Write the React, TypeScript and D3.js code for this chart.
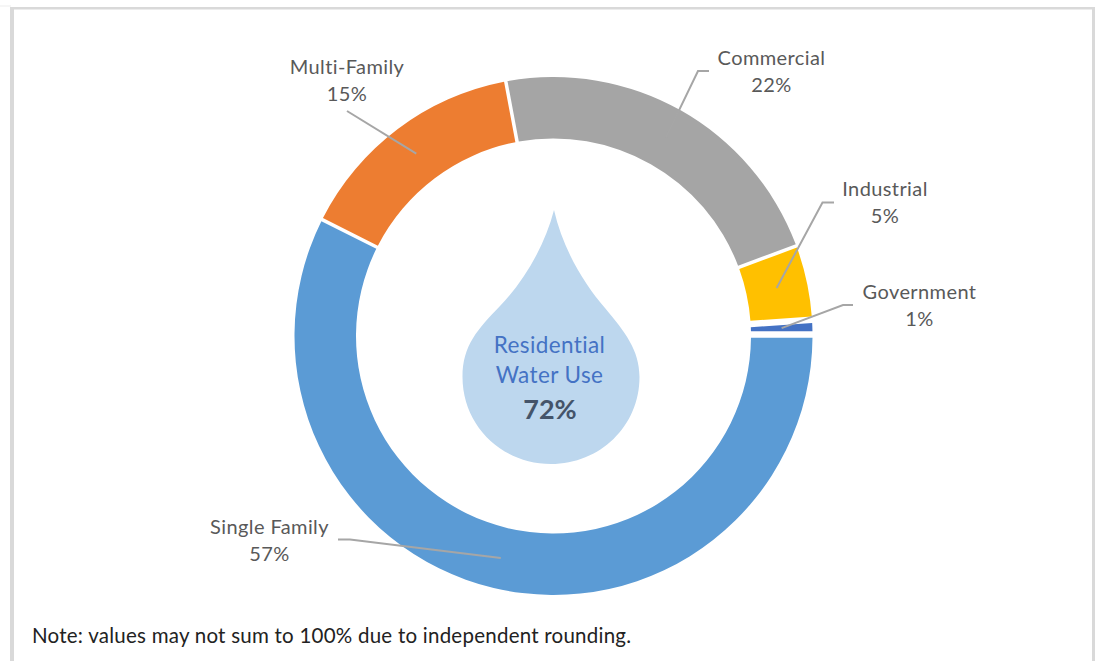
import React from "react";
import * as d3 from "d3";

const categories = ["Single Family", "Multi-Family", "Commercial", "Industrial", "Government"];
const labelValues = ["57%", "15%", "22%", "5%", "1%"];
// Slice sizes as measured from the ring (the printed labels are rounded)
const sliceShares = [57.42, 14.63, 22.3, 4.56, 1.09];
const sliceColors = ["#5b9bd5", "#ed7d31", "#a5a5a5", "#ffc000", "#4472c4"];
const noteText = "Note: values may not sum to 100% due to independent rounding.";
const dropLines = ["Residential", "Water Use"];
const dropValue = "72%";

// Layout (label centre and the leader's outer points)
const labelLayout = [
  { x: 269.5, y: 534, leader: [[338, 539.5], [350, 539.5]] },
  { x: 347, y: 74, leader: [[347, 111]] },
  { x: 771.5, y: 65, leader: [[709, 71], [698, 71]] },
  { x: 885, y: 196, leader: [[834, 202.5], [822.5, 202.5]] },
  { x: 919.5, y: 299, leader: [[853, 305], [843, 305]] },
];
const slicePads = [3.5, 3.5, 3.5, 3.5, 9.5];

const cx = 553.5;
const cy = 336;
const outer = 259;
const inner = 197.5;
const FONT = "Lato, 'Open Sans', sans-serif";

const DROP =
  "M554,210 C545,245 525,280 500,306 C478,329 462.5,345 462.5,377 " +
  "C462.5,426 502,464 551,464 C600,464 639.5,426 639.5,377 C639.5,350 625,332 605,308 " +
  "C585,285 563,250 554,210 Z";

export default function App() {
  const pie = d3
    .pie<number>()
    .sort(null)
    .startAngle(Math.PI / 2)
    .endAngle(Math.PI / 2 + 2 * Math.PI)
    .value((d) => d);
  const arcs = pie(sliceShares);
  const arc = d3.arc<any>().innerRadius(inner).outerRadius(outer).padRadius(100);
  const line = d3.line();

  return (
    <svg
      width={1095}
      height={661}
      viewBox="0 0 1095 661"
      style={{ position: "absolute", left: 0, top: 0, background: "#fff", fontFamily: FONT }}
    >
      <rect x={0} y={5.5} width={11} height={1} fill="#eeeeee" />
      <rect x={10} y={7} width={1085} height={2.5} fill="#d9d9d9" />
      <rect x={10} y={7} width={4} height={654} fill="#d9d9d9" />
      <rect x={1092} y={7} width={3} height={654} fill="#d9d9d9" />

      <g transform={`translate(${cx},${cy})`}>
        {arcs.map((a, i) => (
          <path
            key={categories[i]}
            d={arc({ ...a, padAngle: slicePads[i] / 100 }) as string}
            fill={sliceColors[i]}
          />
        ))}
      </g>

      <path d={DROP} fill="#bdd7ee" />

      {arcs.map((a, i) => {
        const [mx, my] = arc.centroid(a);
        const pts = [...labelLayout[i].leader, [cx + mx, cy + my]] as [number, number][];
        return (
          <path
            key={categories[i]}
            d={line(pts) as string}
            fill="none"
            stroke="#a6a6a6"
            strokeWidth={2}
          />
        );
      })}

      {categories.map((c, i) => (
        <text
          key={c}
          x={labelLayout[i].x}
          y={labelLayout[i].y}
          textAnchor="middle"
          fontSize={20}
          letterSpacing={0.4}
          fill="#595959"
        >
          <tspan x={labelLayout[i].x}>{c}</tspan>
          <tspan x={labelLayout[i].x} dy={27}>{labelValues[i]}</tspan>
        </text>
      ))}

      {dropLines.map((t, i) => (
        <text key={t} x={549.5} y={353 + i * 30} textAnchor="middle" fontSize={22.5} letterSpacing={0.4} fill="#4472c4">
          {t}
        </text>
      ))}
      <text x={550} y={419} textAnchor="middle" fontSize={27} fontWeight={700} fill="#44546a">
        {dropValue}
      </text>

      <text x={32} y={643} fontSize={20.5} letterSpacing={0.24} fill="#222222">
        {noteText}
      </text>
    </svg>
  );
}
